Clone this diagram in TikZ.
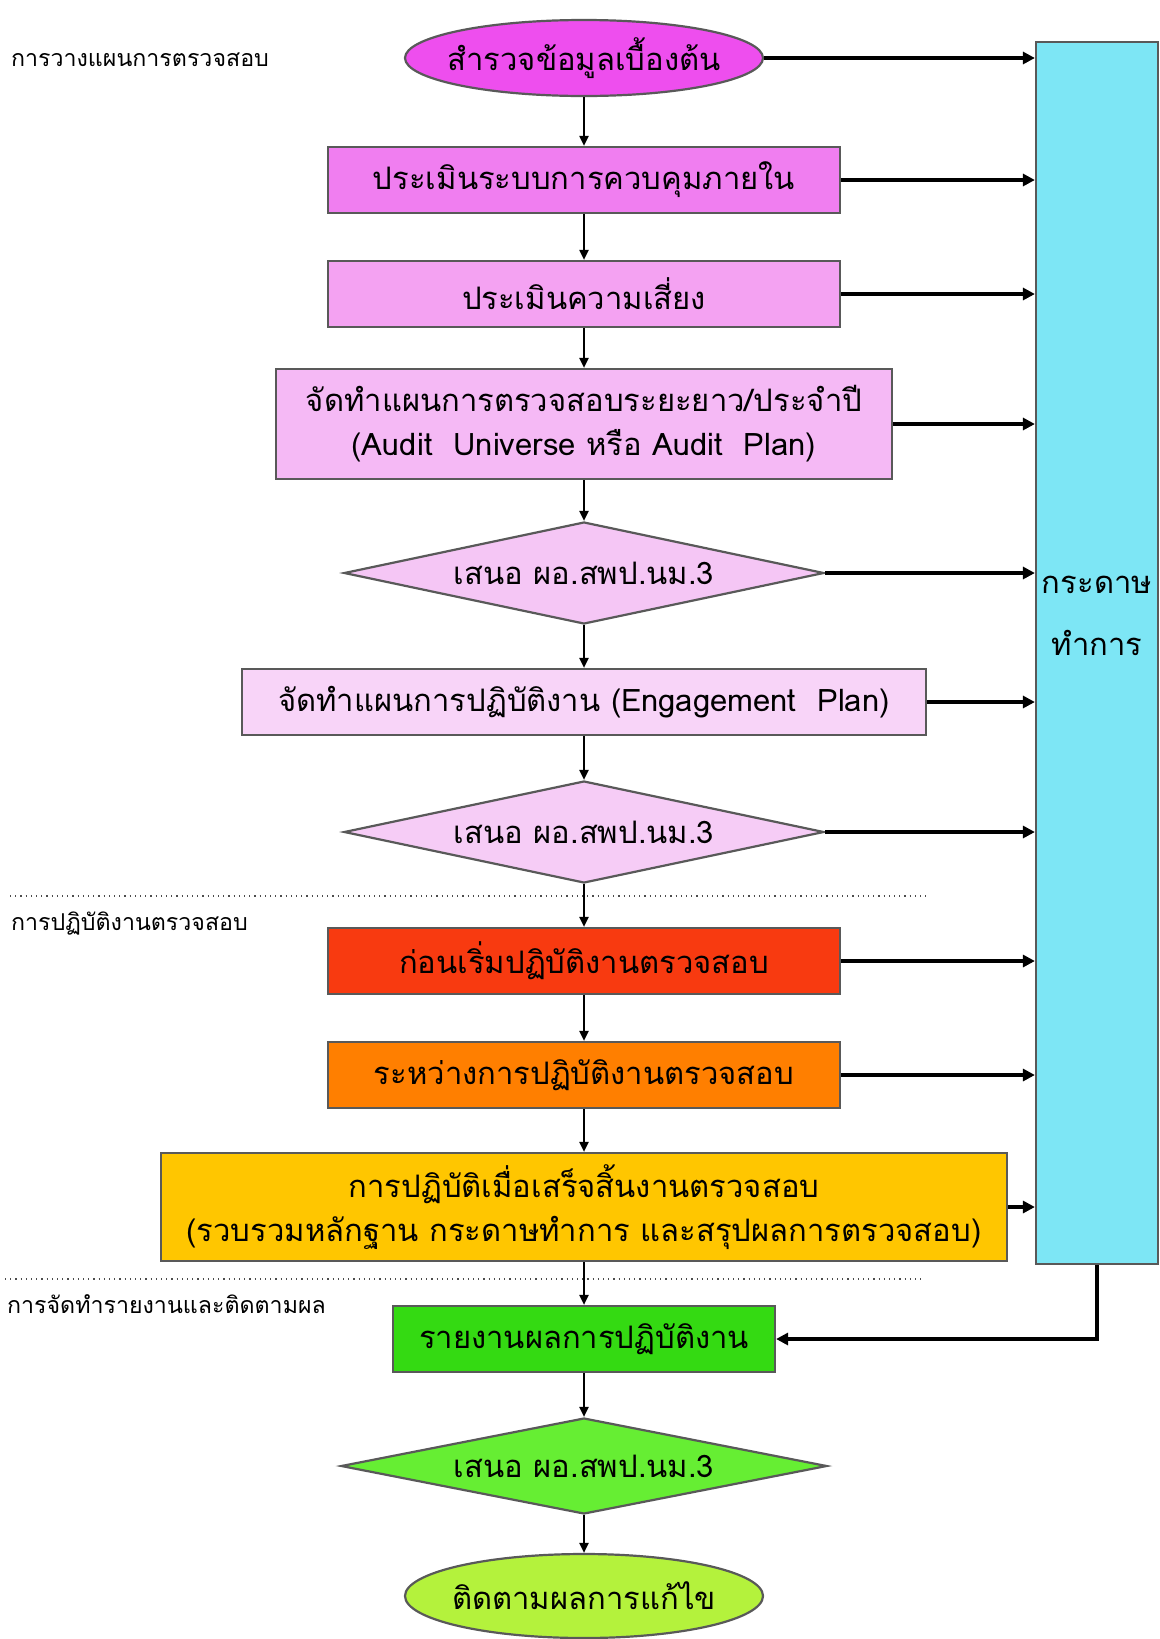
\documentclass[tikz,border=0pt]{standalone}
\usepackage{fontspec}
\newfontfamily\thaifont[Script=Thai]{Loma}
\usetikzlibrary{shapes.geometric}
\usetikzlibrary{arrows.meta}

\definecolor{survey}{HTML}{EE4EEE}
\definecolor{control}{HTML}{F07EF0}
\definecolor{risk}{HTML}{F4A2F2}
\definecolor{yearplan}{HTML}{F5B9F5}
\definecolor{proposeA}{HTML}{F5C6F5}
\definecolor{engage}{HTML}{F8D4F8}
\definecolor{proposeB}{HTML}{F6CCF6}
\definecolor{before}{HTML}{F83A10}
\definecolor{during}{HTML}{FF7F00}
\definecolor{finish}{HTML}{FFC600}
\definecolor{report}{HTML}{34DA12}
\definecolor{proposeC}{HTML}{66EE33}
\definecolor{follow}{HTML}{B4F23C}
\definecolor{paper}{HTML}{7DE6F5}

\tikzset{
    every node/.style={font=\thaifont\fontsize{15.5}{22}\selectfont},
    box/.style={draw=black!65, line width=1.1pt, rectangle, minimum height=33pt, inner sep=2pt, align=center},
    decision/.style={draw=black!65, line width=1.1pt, diamond, aspect=4.7, inner sep=0pt, minimum width=240pt, minimum height=51pt},
    terminal/.style={draw=black!65, line width=1.1pt, ellipse, inner xsep=-5pt, inner ysep=0pt, minimum width=179pt, minimum height=38pt},
    phase/.style={anchor=west, font=\thaifont\fontsize{11.6}{14}\selectfont},
    flow/.style={-{Triangle[length=5pt,width=4.5pt]}, line width=1pt},
    toside/.style={-{Triangle[length=6pt,width=6pt]}, line width=1.6pt},
    sep/.style={dotted, line width=0.6pt, black!70}
}

\begin{document}
\begin{tikzpicture}[x=0.5pt, y=-0.5pt]
    \useasboundingbox (0,0) rectangle (1160,1639);

    \node[terminal, fill=survey] (survey) at (584,58) {สำรวจข้อมูลเบื้องต้น};
    \node[box, fill=control, minimum width=256pt] (control) at (584,180) {ประเมินระบบการควบคุมภายใน};
    \node[box, fill=risk, minimum width=256pt] (risk) at (584,294) {ประเมินความเสี่ยง};
    \node[box, fill=yearplan, minimum width=308pt, minimum height=55pt] (yearplan) at (584,424)
        {จัดทำแผนการตรวจสอบระยะยาว/ประจำปี\\(Audit~~Universe หรือ Audit~~Plan)};
    \node[decision, fill=proposeA] (proposeA) at (584,573) {เสนอ ผอ.สพป.นม.3};
    \node[box, fill=engage, minimum width=342pt] (engage) at (584,702) {จัดทำแผนการปฏิบัติงาน (Engagement~~Plan)};
    \node[decision, fill=proposeB] (proposeB) at (584,832) {เสนอ ผอ.สพป.นม.3};
    \node[box, fill=before, minimum width=256pt] (before) at (584,961) {ก่อนเริ่มปฏิบัติงานตรวจสอบ};
    \node[box, fill=during, minimum width=256pt] (during) at (584,1075) {ระหว่างการปฏิบัติงานตรวจสอบ};
    \node[box, fill=finish, minimum width=423pt, minimum height=54pt] (finish) at (584,1207)
        {การปฏิบัติเมื่อเสร็จสิ้นงานตรวจสอบ\\(รวบรวมหลักฐาน กระดาษทำการ และสรุปผลการตรวจสอบ)};
    \node[box, fill=report, minimum width=191pt] (report) at (584,1339) {รายงานผลการปฏิบัติงาน};
    \node[decision, fill=proposeC, minimum width=243pt, minimum height=48pt] (proposeC) at (584,1466) {เสนอ ผอ.สพป.นม.3};
    \node[terminal, fill=follow, minimum height=42pt] (follow) at (584,1596) {ติดตามผลการแก้ไข};

    \node[draw=black!65, line width=1.1pt, fill=paper, minimum width=61pt, minimum height=611pt] (paper) at (1097,653) {};
    \node[align=center, font=\thaifont\fontsize{15.5}{31}\selectfont] (papertext) at (1097,616) {กระดาษ\\ทำการ};

    % phases
    \node[phase] (planning) at (4,60) {การวางแผนการตรวจสอบ};
    \node[phase] (fieldwork) at (4,924) {การปฏิบัติงานตรวจสอบ};
    \node[phase] (reporting) at (0,1304) {การจัดทำรายงานและติดตามผล};
    \draw[sep] (10,896) -- (927,896);
    \draw[sep] (5,1279) -- (924,1279);

    \foreach \a/\b in {survey/control, control/risk, risk/yearplan, yearplan/proposeA, proposeA/engage,
        engage/proposeB, proposeB/before, before/during, during/finish, finish/report, report/proposeC, proposeC/follow}
        \draw[flow] (\a) -- (\b);

    \foreach \n in {survey, control, risk, yearplan, proposeA, engage, proposeB, before, during, finish}
        \draw[toside] (\n.east) -- (\n.east -| paper.west);
    \draw[toside] (paper.south) |- (report.east);
\end{tikzpicture}
\end{document}
